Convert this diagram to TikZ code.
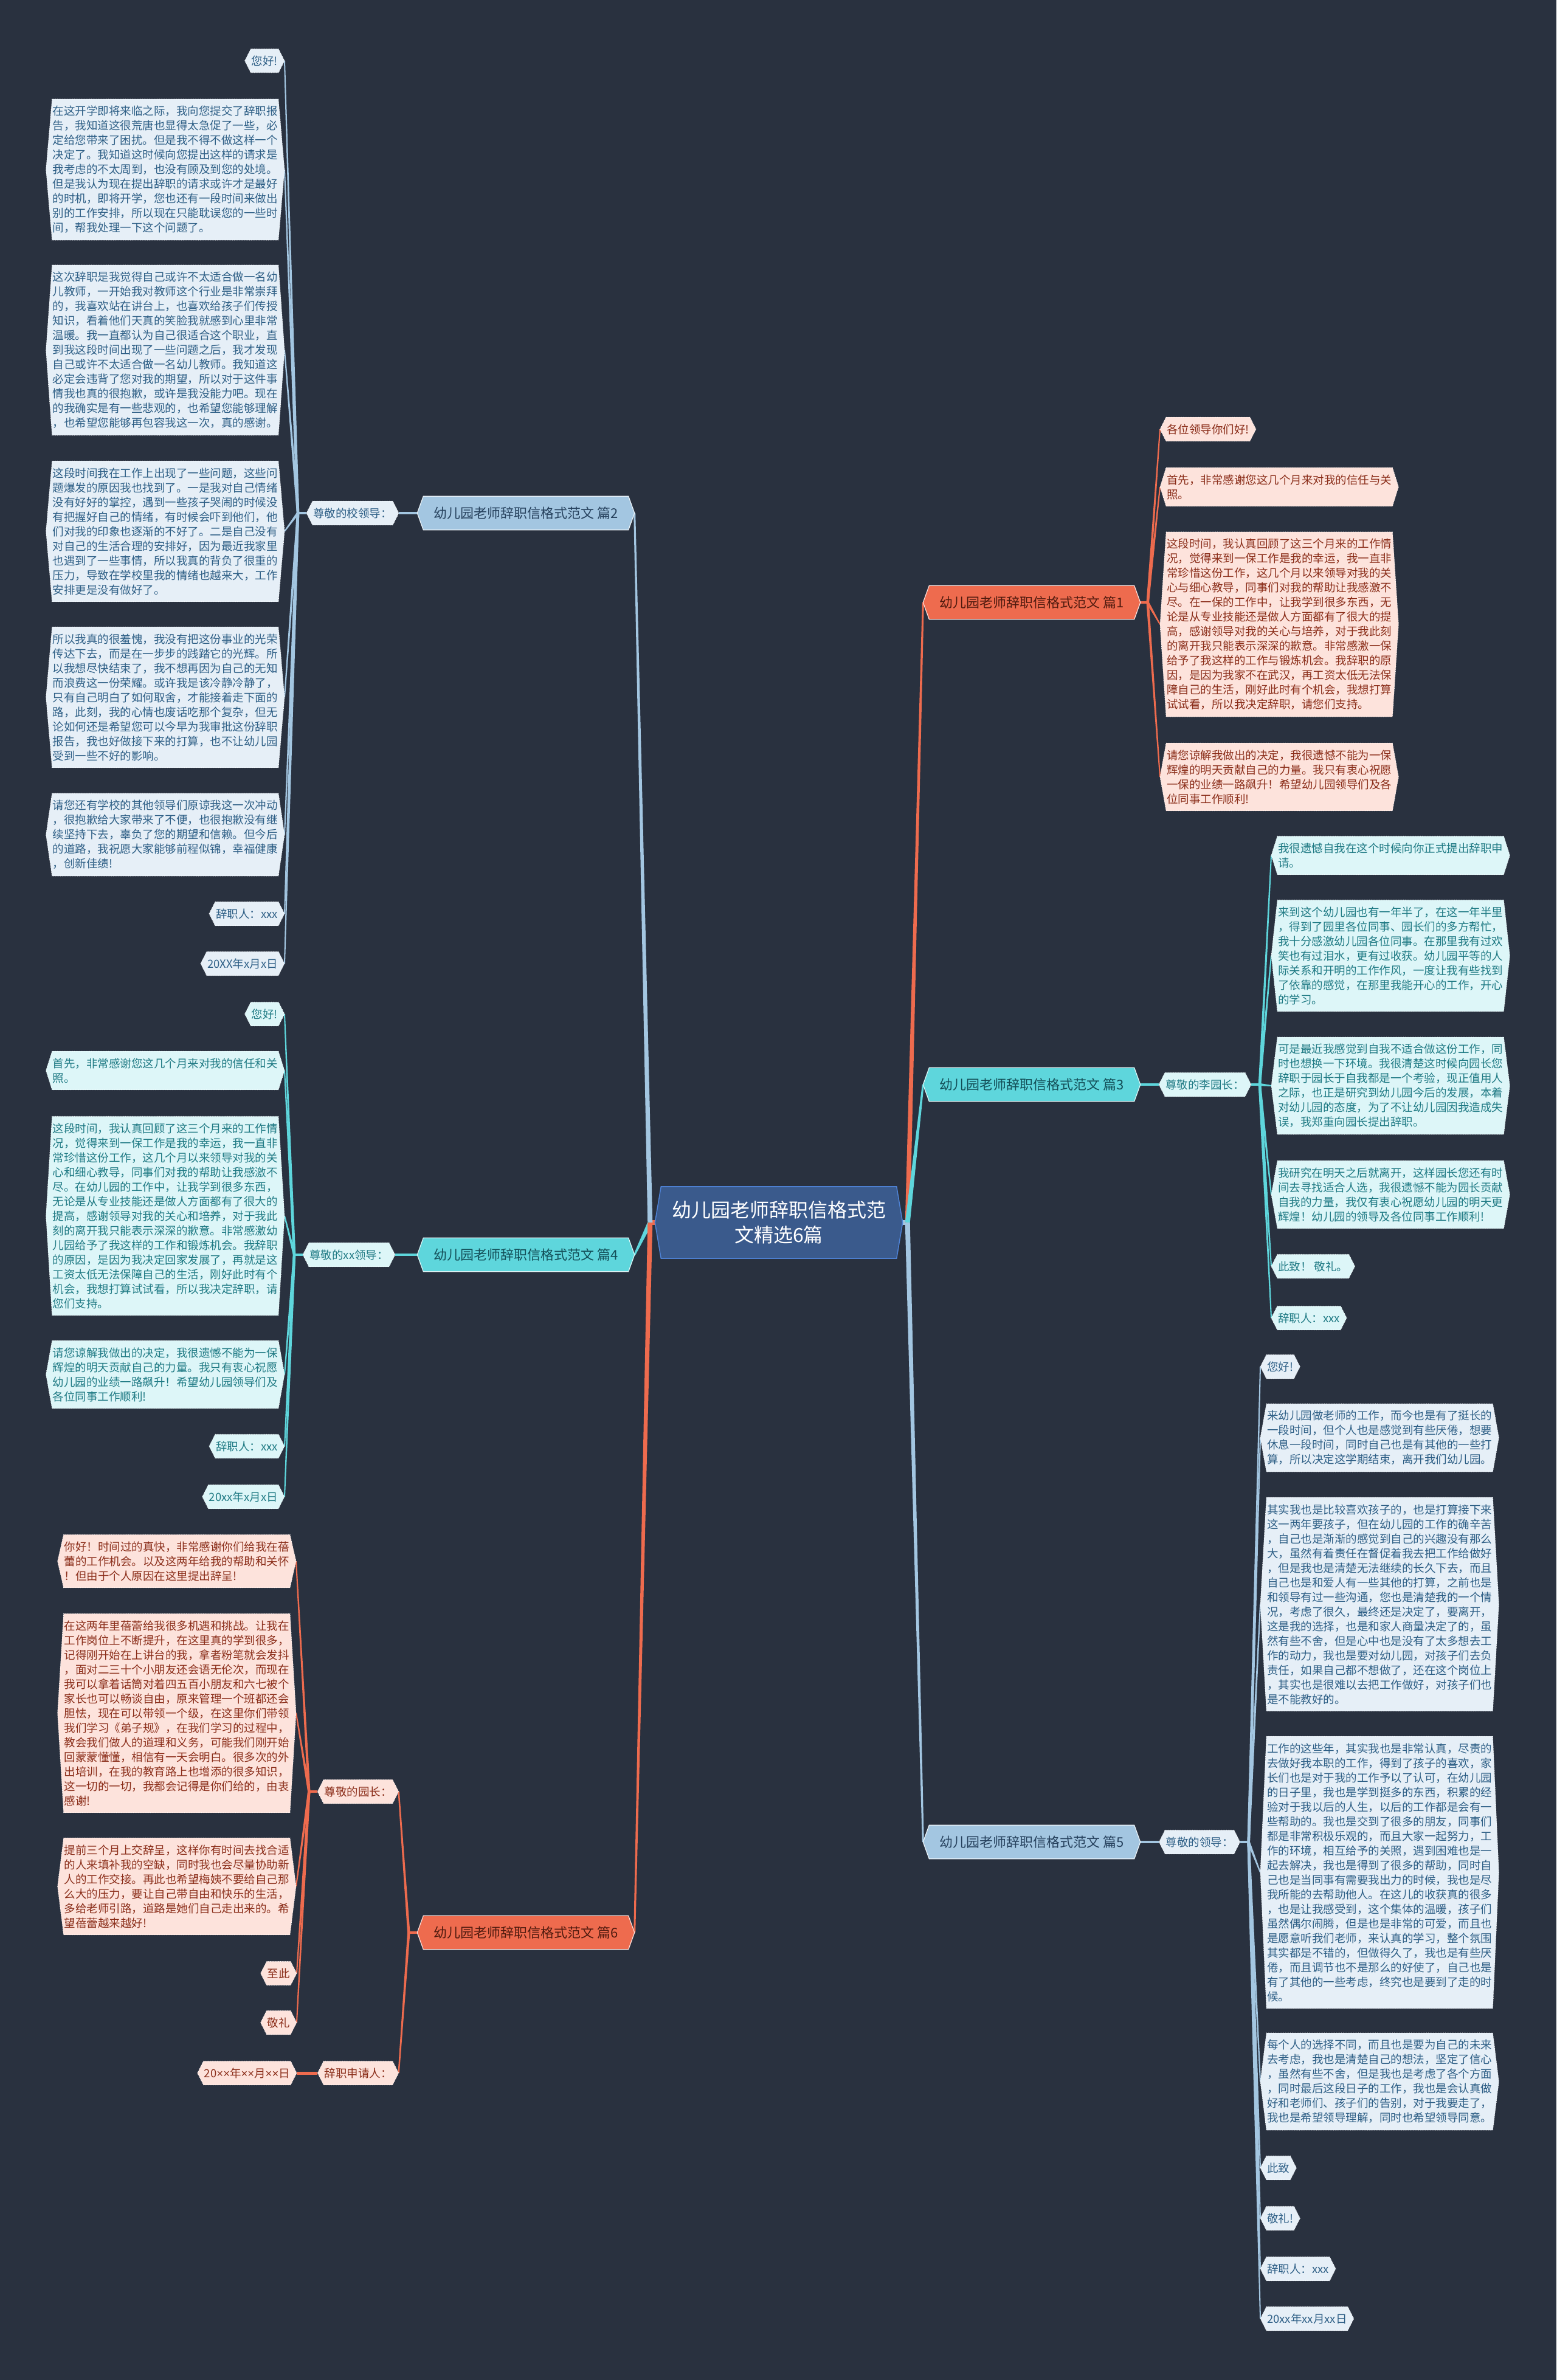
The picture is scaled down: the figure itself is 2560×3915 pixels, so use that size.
\documentclass[tikz,border=0pt]{standalone}
\usepackage{fontspec}
\setmainfont{Noto Sans CJK SC}
\newfontfamily\latinf{Liberation Sans}
\usetikzlibrary{calc}
\pgfdeclarelayer{back}\pgfdeclarelayer{edges}\pgfdeclarelayer{bg}
\pgfsetlayers{back,edges,bg,main}

\definecolor{bgc}{HTML}{29313F}
\definecolor{oline}{HTML}{EE6B4E}
\definecolor{opale}{HTML}{FDE3DC}
\definecolor{otxt}{HTML}{8B2E1A}
\definecolor{obrtxt}{HTML}{4F1A0E}
\definecolor{cline}{HTML}{5ED6DC}
\definecolor{cpale}{HTML}{DDF6F8}
\definecolor{ctxt}{HTML}{1F7A84}
\definecolor{cbrtxt}{HTML}{134E57}
\definecolor{bline}{HTML}{A3C6E1}
\definecolor{bpale}{HTML}{E6EFF7}
\definecolor{btxt}{HTML}{2E5F86}
\definecolor{bbrtxt}{HTML}{27425E}
\definecolor{rootfill}{HTML}{3A5A8C}
\definecolor{rootdraw}{HTML}{4F83D6}

\tikzset{
  leaf/.style={inner xsep=1pt, inner ysep=11pt, align=left, font=\fontsize{18.5}{24}\selectfont},
  branch/.style={minimum width=337pt, minimum height=55pt, inner sep=0pt, font=\fontsize{22}{26}\selectfont},
  leafO/.style={leaf, text=otxt}, leafC/.style={leaf, text=ctxt}, leafB/.style={leaf, text=btxt},
  hexO/.style={fill=opale, draw=white, line width=0.8pt, dotted},
  hexC/.style={fill=cpale, draw=white, line width=0.8pt, dotted},
  hexB/.style={fill=bpale, draw=white, line width=0.8pt, dotted},
  brO/.style={branch, text=obrtxt}, brC/.style={branch, text=cbrtxt}, brB/.style={branch, text=bbrtxt},
  bhexO/.style={fill=oline, draw=white!80!oline, line width=1.2pt},
  bhexC/.style={fill=cline, draw=white!80!cline, line width=1.2pt},
  bhexB/.style={fill=bline, draw=white!80!bline, line width=1.2pt},
  rootst/.style={minimum width=387pt, minimum height=118pt, inner sep=0pt, align=center, text=white, font=\fontsize{32}{41}\selectfont},
  roothex/.style={fill=rootfill, draw=rootdraw, line width=1.5pt}
}

\newcommand\hexnode[6]{%
  \node[#1,anchor=#5] (#3) at #4 {#6};
  \coordinate (#3-L) at ([xshift=-10pt]#3.west);
  \coordinate (#3-R) at ([xshift=10pt]#3.east);
  \begin{pgfonlayer}{bg}
  \path[#2] (#3.north west) -- (#3.north east) -- (#3-R) -- (#3.south east) -- (#3.south west) -- (#3-L) -- cycle;
  \end{pgfonlayer}}
\newcommand\taper[5]{%
  \begin{pgfonlayer}{edges}
  \fill[#5] ($(#1)!#3!90:(#2)$) -- ($(#2)!#4!-90:(#1)$) -- ($(#2)!#4!90:(#1)$) -- ($(#1)!#3!-90:(#2)$) -- cycle;
  \end{pgfonlayer}}
\newcommand\stub[4]{%
  \begin{pgfonlayer}{edges}
  \draw[line width=#3, #4] (#1) -- (#2);
  \end{pgfonlayer}}

\begin{document}
\begin{tikzpicture}[x=1pt,y=-1pt]
\begin{pgfonlayer}{back}
\fill[bgc] (0,0) rectangle (2560,3915);
\end{pgfonlayer}
\useasboundingbox (0,0) rectangle (2560,3915);

% root
\hexnode{rootst}{roothex}{root}{(1281,2011)}{center}{幼儿园老师辞职信格式范\\文精选6篇}

% branches
\hexnode{brO}{bhexO}{b1}{(1697,991)}{center}{幼儿园老师辞职信格式范文 篇1}
\hexnode{brC}{bhexC}{b3}{(1697,1784)}{center}{幼儿园老师辞职信格式范文 篇3}
\hexnode{brB}{bhexB}{b5}{(1697,3030)}{center}{幼儿园老师辞职信格式范文 篇5}
\hexnode{brB}{bhexB}{b2}{(865,844)}{center}{幼儿园老师辞职信格式范文 篇2}
\hexnode{brC}{bhexC}{b4}{(865,2064)}{center}{幼儿园老师辞职信格式范文 篇4}
\hexnode{brO}{bhexO}{b6}{(865,3179)}{center}{幼儿园老师辞职信格式范文 篇6}

% sub headings
\hexnode{leafB}{hexB}{s2}{(580,844)}{center}{尊敬的校领导：}
\hexnode{leafC}{hexC}{s4}{(574,2064)}{center}{尊敬的xx领导：}
\hexnode{leafO}{hexO}{s6a}{(589,2947)}{center}{尊敬的园长：}
\hexnode{leafO}{hexO}{s6b}{(589,3410)}{center}{辞职申请人：}
\hexnode{leafC}{hexC}{s3}{(1982,1784)}{center}{尊敬的李园长：}
\hexnode{leafB}{hexB}{s5}{(1973,3030)}{center}{尊敬的领导：}

% ---------- 篇2 leaves
\hexnode{leafB}{hexB}{p2h}{(458,100)}{east}{您好!}
\hexnode{leafB}{hexB}{p2a}{(458,279)}{east}{在这开学即将来临之际，我向您提交了辞职报\\告，我知道这很荒唐也显得太急促了一些，必\\定给您带来了困扰。但是我不得不做这样一个\\决定了。我知道这时候向您提出这样的请求是\\我考虑的不太周到，也没有顾及到您的处境。\\但是我认为现在提出辞职的请求或许才是最好\\的时机，即将开学，您也还有一段时间来做出\\别的工作安排，所以现在只能耽误您的一些时\\间，帮我处理一下这个问题了。}
\hexnode{leafB}{hexB}{p2b}{(458,576)}{east}{这次辞职是我觉得自己或许不太适合做一名幼\\儿教师，一开始我对教师这个行业是非常崇拜\\的，我喜欢站在讲台上，也喜欢给孩子们传授\\知识，看着他们天真的笑脸我就感到心里非常\\温暖。我一直都认为自己很适合这个职业，直\\到我这段时间出现了一些问题之后，我才发现\\自己或许不太适合做一名幼儿教师。我知道这\\必定会违背了您对我的期望，所以对于这件事\\情我也真的很抱歉，或许是我没能力吧。现在\\的我确实是有一些悲观的，也希望您能够理解\\，也希望您能够再包容我这一次，真的感谢。}
\hexnode{leafB}{hexB}{p2c}{(458,874)}{east}{这段时间我在工作上出现了一些问题，这些问\\题爆发的原因我也找到了。一是我对自己情绪\\没有好好的掌控，遇到一些孩子哭闹的时候没\\有把握好自己的情绪，有时候会吓到他们，他\\们对我的印象也逐渐的不好了。二是自己没有\\对自己的生活合理的安排好，因为最近我家里\\也遇到了一些事情，所以我真的背负了很重的\\压力，导致在学校里我的情绪也越来大，工作\\安排更是没有做好了。}
\hexnode{leafB}{hexB}{p2d}{(458,1147)}{east}{所以我真的很羞愧，我没有把这份事业的光荣\\传达下去，而是在一步步的践踏它的光辉。所\\以我想尽快结束了，我不想再因为自己的无知\\而浪费这一份荣耀。或许我是该冷静冷静了，\\只有自己明白了如何取舍，才能接着走下面的\\路，此刻，我的心情也废话吃那个复杂，但无\\论如何还是希望您可以今早为我审批这份辞职\\报告，我也好做接下来的打算，也不让幼儿园\\受到一些不好的影响。}
\hexnode{leafB}{hexB}{p2e}{(458,1373)}{east}{请您还有学校的其他领导们原谅我这一次冲动\\，很抱歉给大家带来了不便，也很抱歉没有继\\续坚持下去，辜负了您的期望和信赖。但今后\\的道路，我祝愿大家能够前程似锦，幸福健康\\，创新佳绩!}
\hexnode{leafB}{hexB}{p2s}{(458,1503)}{east}{辞职人：xxx}
\hexnode{leafB}{hexB}{p2t}{(458,1585)}{east}{20XX年x月x日}

% ---------- 篇4 leaves
\hexnode{leafC}{hexC}{p4h}{(458,1668)}{east}{您好!}
\hexnode{leafC}{hexC}{p4a}{(458,1761)}{east}{首先，非常感谢您这几个月来对我的信任和关\\照。}
\hexnode{leafC}{hexC}{p4b}{(458,2000)}{east}{这段时间，我认真回顾了这三个月来的工作情\\况，觉得来到一保工作是我的幸运，我一直非\\常珍惜这份工作，这几个月以来领导对我的关\\心和细心教导，同事们对我的帮助让我感激不\\尽。在幼儿园的工作中，让我学到很多东西，\\无论是从专业技能还是做人方面都有了很大的\\提高，感谢领导对我的关心和培养，对于我此\\刻的离开我只能表示深深的歉意。非常感激幼\\儿园给予了我这样的工作和锻炼机会。我辞职\\的原因，是因为我决定回家发展了，再就是这\\工资太低无法保障自己的生活，刚好此时有个\\机会，我想打算试试看，所以我决定辞职，请\\您们支持。}
\hexnode{leafC}{hexC}{p4c}{(458,2261)}{east}{请您谅解我做出的决定，我很遗憾不能为一保\\辉煌的明天贡献自己的力量。我只有衷心祝愿\\幼儿园的业绩一路飙升！希望幼儿园领导们及\\各位同事工作顺利!}
\hexnode{leafC}{hexC}{p4s}{(458,2379)}{east}{辞职人：xxx}
\hexnode{leafC}{hexC}{p4t}{(458,2462)}{east}{20xx年x月x日}

% ---------- 篇6 leaves
\hexnode{leafO}{hexO}{p6a}{(477,2568)}{east}{你好！时间过的真快，非常感谢你们给我在蓓\\蕾的工作机会。以及这两年给我的帮助和关怀\\！但由于个人原因在这里提出辞呈!}
\hexnode{leafO}{hexO}{p6b}{(477,2818)}{east}{在这两年里蓓蕾给我很多机遇和挑战。让我在\\工作岗位上不断提升，在这里真的学到很多，\\记得刚开始在上讲台的我，拿者粉笔就会发抖\\，面对二三十个小朋友还会语无伦次，而现在\\我可以拿着话筒对着四五百小朋友和六七被个\\家长也可以畅谈自由，原来管理一个班都还会\\胆怯，现在可以带领一个级，在这里你们带领\\我们学习《弟子规》，在我们学习的过程中，\\教会我们做人的道理和义务，可能我们刚开始\\回蒙蒙懂懂，相信有一天会明白。很多次的外\\出培训，在我的教育路上也增添的很多知识，\\这一切的一切，我都会记得是你们给的，由衷\\感谢!}
\hexnode{leafO}{hexO}{p6c}{(477,3103)}{east}{提前三个月上交辞呈，这样你有时间去找合适\\的人来填补我的空缺，同时我也会尽量协助新\\人的工作交接。再此也希望梅姨不要给自己那\\么大的压力，要让自己带自由和快乐的生活，\\多给老师引路，道路是她们自己走出来的。希\\望蓓蕾越来越好!}
\hexnode{leafO}{hexO}{p6d}{(478,3246)}{east}{至此}
\hexnode{leafO}{hexO}{p6e}{(478,3327)}{east}{敬礼}
\hexnode{leafO}{hexO}{p6t}{(478,3410)}{east}{20{\latinf ××}年{\latinf ××}月{\latinf ××}日}

% ---------- 篇1 leaves
\hexnode{leafO}{hexO}{p1h}{(1918,706)}{west}{各位领导你们好!}
\hexnode{leafO}{hexO}{p1a}{(1918,801)}{west}{首先，非常感谢您这几个月来对我的信任与关\\照。}
\hexnode{leafO}{hexO}{p1b}{(1918,1027)}{west}{这段时间，我认真回顾了这三个月来的工作情\\况，觉得来到一保工作是我的幸运，我一直非\\常珍惜这份工作，这几个月以来领导对我的关\\心与细心教导，同事们对我的帮助让我感激不\\尽。在一保的工作中，让我学到很多东西，无\\论是从专业技能还是做人方面都有了很大的提\\高，感谢领导对我的关心与培养，对于我此刻\\的离开我只能表示深深的歉意。非常感激一保\\给予了我这样的工作与锻炼机会。我辞职的原\\因，是因为我家不在武汉，再工资太低无法保\\障自己的生活，刚好此时有个机会，我想打算\\试试看，所以我决定辞职，请您们支持。}
\hexnode{leafO}{hexO}{p1c}{(1918,1278)}{west}{请您谅解我做出的决定，我很遗憾不能为一保\\辉煌的明天贡献自己的力量。我只有衷心祝愿\\一保的业绩一路飙升！希望幼儿园领导们及各\\位同事工作顺利!}

% ---------- 篇3 leaves
\hexnode{leafC}{hexC}{p3a}{(2101,1407)}{west}{我很遗憾自我在这个时候向你正式提出辞职申\\请。}
\hexnode{leafC}{hexC}{p3b}{(2101,1572)}{west}{来到这个幼儿园也有一年半了，在这一年半里\\，得到了园里各位同事、园长们的多方帮忙，\\我十分感激幼儿园各位同事。在那里我有过欢\\笑也有过泪水，更有过收获。幼儿园平等的人\\际关系和开明的工作作风，一度让我有些找到\\了依靠的感觉，在那里我能开心的工作，开心\\的学习。}
\hexnode{leafC}{hexC}{p3c}{(2101,1786)}{west}{可是最近我感觉到自我不适合做这份工作，同\\时也想换一下环境。我很清楚这时候向园长您\\辞职于园长于自我都是一个考验，现正值用人\\之际，也正是研究到幼儿园今后的发展，本着\\对幼儿园的态度，为了不让幼儿园因我造成失\\误，我郑重向园长提出辞职。}
\hexnode{leafC}{hexC}{p3d}{(2101,1965)}{west}{我研究在明天之后就离开，这样园长您还有时\\间去寻找适合人选，我很遗憾不能为园长贡献\\自我的力量，我仅有衷心祝愿幼儿园的明天更\\辉煌！幼儿园的领导及各位同事工作顺利!}
\hexnode{leafC}{hexC}{p3e}{(2101,2083)}{west}{此致！ 敬礼。}
\hexnode{leafC}{hexC}{p3s}{(2101,2168)}{west}{辞职人：xxx}

% ---------- 篇5 leaves
\hexnode{leafB}{hexB}{p5h}{(2083,2248)}{west}{您好!}
\hexnode{leafB}{hexB}{p5a}{(2083,2365)}{west}{来幼儿园做老师的工作，而今也是有了挺长的\\一段时间，但个人也是感觉到有些厌倦，想要\\休息一段时间，同时自己也是有其他的一些打\\算，所以决定这学期结束，离开我们幼儿园。}
\hexnode{leafB}{hexB}{p5b}{(2083,2639)}{west}{其实我也是比较喜欢孩子的，也是打算接下来\\这一两年要孩子，但在幼儿园的工作的确辛苦\\，自己也是渐渐的感觉到自己的兴趣没有那么\\大，虽然有着责任在督促着我去把工作给做好\\，但是我也是清楚无法继续的长久下去，而且\\自己也是和爱人有一些其他的打算，之前也是\\和领导有过一些沟通，您也是清楚我的一个情\\况，考虑了很久，最终还是决定了，要离开，\\这是我的选择，也是和家人商量决定了的，虽\\然有些不舍，但是心中也是没有了太多想去工\\作的动力，我也是要对幼儿园，对孩子们去负\\责任，如果自己都不想做了，还在这个岗位上\\，其实也是很难以去把工作做好，对孩子们也\\是不能教好的。}
\hexnode{leafB}{hexB}{p5c}{(2083,3080)}{west}{工作的这些年，其实我也是非常认真，尽责的\\去做好我本职的工作，得到了孩子的喜欢，家\\长们也是对于我的工作予以了认可，在幼儿园\\的日子里，我也是学到挺多的东西，积累的经\\验对于我以后的人生，以后的工作都是会有一\\些帮助的。我也是交到了很多的朋友，同事们\\都是非常积极乐观的，而且大家一起努力，工\\作的环境，相互给予的关照，遇到困难也是一\\起去解决，我也是得到了很多的帮助，同时自\\己也是当同事有需要我出力的时候，我也是尽\\我所能的去帮助他人。在这儿的收获真的很多\\，也是让我感受到，这个集体的温暖，孩子们\\虽然偶尔闹腾，但是也是非常的可爱，而且也\\是愿意听我们老师，来认真的学习，整个氛围\\其实都是不错的，但做得久了，我也是有些厌\\倦，而且调节也不是那么的好使了，自己也是\\有了其他的一些考虑，终究也是要到了走的时\\候。}
\hexnode{leafB}{hexB}{p5d}{(2083,3424)}{west}{每个人的选择不同，而且也是要为自己的未来\\去考虑，我也是清楚自己的想法，坚定了信心\\，虽然有些不舍，但是我也是考虑了各个方面\\，同时最后这段日子的工作，我也是会认真做\\好和老师们、孩子们的告别，对于我要走了，\\我也是希望领导理解，同时也希望领导同意。}
\hexnode{leafB}{hexB}{p5e}{(2083,3566)}{west}{此致}
\hexnode{leafB}{hexB}{p5f}{(2083,3649)}{west}{敬礼!}
\hexnode{leafB}{hexB}{p5s}{(2083,3732)}{west}{辞职人：xxx}
\hexnode{leafB}{hexB}{p5t}{(2083,3814)}{west}{20xx年xx月xx日}

% ---------- connectors
\coordinate (jR) at ([xshift=8pt]root-R);
\coordinate (jL) at ([xshift=-8pt]root-L);
\stub{root-R}{jR}{8pt}{bline}
\stub{root-L}{jL}{8pt}{oline}
\taper{jR}{b1-L}{4pt}{1.5pt}{oline}
\taper{jR}{b3-L}{4pt}{1.5pt}{cline}
\taper{jR}{b5-L}{4pt}{1.5pt}{bline}
\taper{jL}{b2-R}{4pt}{1.5pt}{bline}
\taper{jL}{b4-R}{4pt}{1.5pt}{cline}
\taper{jL}{b6-R}{4pt}{1.5pt}{oline}

% 篇1
\coordinate (j1) at ([xshift=12pt]b1-R);
\stub{b1-R}{j1}{4pt}{oline}
\foreach \n in {p1h,p1a,p1b,p1c}{\taper{j1}{\n-L}{2.2pt}{1pt}{oline}}

% 篇3
\stub{b3-R}{s3-L}{3.5pt}{cline}
\coordinate (j3) at ([xshift=14pt]s3-R);
\stub{s3-R}{j3}{3.5pt}{cline}
\foreach \n in {p3a,p3b,p3c,p3d,p3e,p3s}{\taper{j3}{\n-L}{2.2pt}{1pt}{cline}}

% 篇5
\stub{b5-R}{s5-L}{3.5pt}{bline}
\coordinate (j5) at ([xshift=14pt]s5-R);
\stub{s5-R}{j5}{3.5pt}{bline}
\foreach \n in {p5h,p5a,p5b,p5c,p5d,p5e,p5f,p5s,p5t}{\taper{j5}{\n-L}{2.2pt}{1pt}{bline}}

% 篇2
\stub{b2-L}{s2-R}{3.5pt}{bline}
\coordinate (j2) at ([xshift=-14pt]s2-L);
\stub{s2-L}{j2}{3.5pt}{bline}
\foreach \n in {p2h,p2a,p2b,p2c,p2d,p2e,p2s,p2t}{\taper{j2}{\n-R}{2.2pt}{1pt}{bline}}

% 篇4
\stub{b4-L}{s4-R}{3.5pt}{cline}
\coordinate (j4) at ([xshift=-14pt]s4-L);
\stub{s4-L}{j4}{3.5pt}{cline}
\foreach \n in {p4h,p4a,p4b,p4c,p4s,p4t}{\taper{j4}{\n-R}{2.2pt}{1pt}{cline}}

% 篇6
\coordinate (j6) at ([xshift=-14pt]b6-L);
\stub{b6-L}{j6}{3.5pt}{oline}
\taper{j6}{s6a-R}{2.2pt}{1.2pt}{oline}
\taper{j6}{s6b-R}{2.2pt}{1.2pt}{oline}
\coordinate (j6a) at ([xshift=-14pt]s6a-L);
\stub{s6a-L}{j6a}{3.5pt}{oline}
\foreach \n in {p6a,p6b,p6c,p6d,p6e}{\taper{j6a}{\n-R}{2.2pt}{1pt}{oline}}
\stub{s6b-L}{p6t-R}{5pt}{oline}
\end{tikzpicture}
\end{document}
